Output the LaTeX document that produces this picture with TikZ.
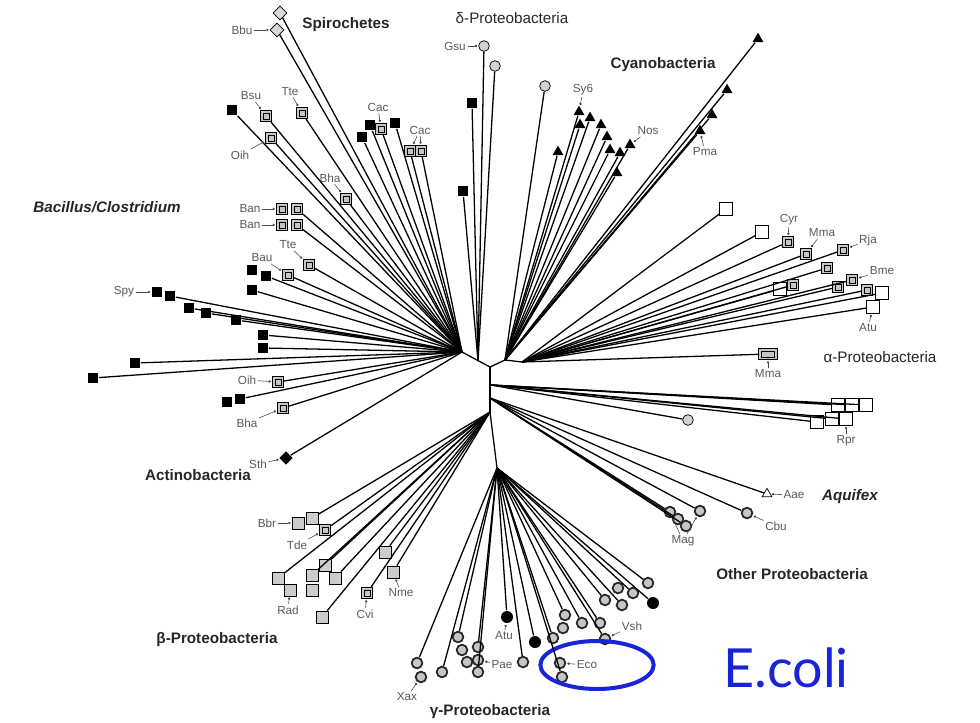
\documentclass[tikz,border=0pt]{standalone}
\usepackage{fontspec}
\setmainfont{Liberation Sans}
\newfontfamily\ecolifont{Lato}
\usetikzlibrary{shapes.geometric, arrows.meta}
\definecolor{ecblue}{RGB}{25,35,215}

\begin{document}
\begin{tikzpicture}[
  x=0.3mm, y=-0.3mm,
  blk/.style={rectangle, fill=black, minimum size=3.1mm, inner sep=0pt},
  hsq/.style={rectangle, draw, line width=0.7pt, fill=gray!45, minimum size=3.4mm, inner sep=0pt,
    path picture={\draw[line width=0.5pt] ([shift={(0.8mm,0.8mm)}]path picture bounding box.south west) rectangle ([shift={(-0.8mm,-0.8mm)}]path picture bounding box.north east);}},
  osq/.style={rectangle, draw, line width=0.6pt, fill=white, minimum size=3.8mm, inner sep=0pt},
  gsq/.style={rectangle, draw, line width=0.6pt, fill=gray!40, minimum size=3.6mm, inner sep=0pt},
  tri/.style={regular polygon, regular polygon sides=3, fill=black, minimum size=3.8mm, inner sep=0pt},
  otri/.style={regular polygon, regular polygon sides=3, draw, line width=0.6pt, fill=white, minimum size=3.4mm, inner sep=0pt},
  gcirc/.style={circle, draw, line width=0.6pt, fill=gray!35, minimum size=3.2mm, inner sep=0pt},
  gam/.style={circle, draw=black!85, line width=1.5pt, fill=gray!45, minimum size=3.2mm, inner sep=0pt},
  bcirc/.style={circle, fill=black, minimum size=3.6mm, inner sep=0pt},
  dia/.style={diamond, draw, line width=0.6pt, fill=gray!30, minimum size=4.2mm, inner sep=0pt},
  bdia/.style={diamond, fill=black, minimum size=4.2mm, inner sep=0pt},
  sp/.style={font=\fontsize{10}{10}\selectfont, text=black!65, inner sep=1pt},
  grp/.style={font=\fontsize{13}{13}\selectfont\bfseries, text=black!85},
  ptr/.style={black!70, line width=0.5pt, -{Circle[length=2pt]}, shorten >=1pt},
  line width=1.1pt
]
  \useasboundingbox (0,0) rectangle (980,723);

  % hubs of the tree
  \coordinate (L) at (462,352);
  \coordinate (T) at (478,361);
  \coordinate (C) at (490,367);
  \coordinate (R) at (505,360);
  \coordinate (A) at (522,362);
  \coordinate (M) at (491,385);
  \coordinate (N) at (490,398);
  \coordinate (D) at (490,412);
  \coordinate (G) at (497,468);

  % group names
  \node[grp] (spiro) at (346,25) {Spirochetes};
  \node[grp, font=\fontsize{13}{13}\selectfont] (delta) at (512,18) {δ-Proteobacteria};
  \node[grp] (cyano) at (663,65) {Cyanobacteria};
  \node[grp, font=\fontsize{13}{13}\selectfont\bfseries\itshape] (bacil) at (107,207) {Bacillus/Clostridium};
  \node[grp] (actino) at (198,475) {Actinobacteria};
  \node[grp, font=\fontsize{13}{13}\selectfont] (alpha) at (880,357) {α-Proteobacteria};
  \node[grp, font=\fontsize{13}{13}\selectfont\bfseries\itshape] (aquif) at (850,497) {Aquifex};
  \node[grp] (other) at (792,574) {Other Proteobacteria};
  \node[grp] (beta) at (217,640) {β-Proteobacteria};
  \node[grp] (gamma) at (490,712) {γ-Proteobacteria};

  % Spirochetes
  \node[dia] (sp1) at (280,13) {};
  \node[dia] (sp2) at (277,30) {};
  \node[sp] (lBbu) at (242,30) {Bbu};

  % delta
  \node[gcirc] (de1) at (484,46) {};
  \node[gcirc] (de2) at (495,66) {};
  \node[blk] (de3) at (472,103) {};
  \node[blk] (de4) at (463,191) {};
  \node[gcirc] (de5) at (545,86) {};
  \node[sp] (lGsu) at (455,46) {Gsu};

  % Cyanobacteria
  \node[tri] (cy1) at (758,39) {};
  \node[tri] (cy2) at (727,90) {};
  \node[tri] (cy3) at (712,115) {};
  \node[tri] (cy4) at (700,131) {};
  \node[tri] (cy5) at (579,112) {};
  \node[tri] (cy6) at (590,118) {};
  \node[tri] (cy7) at (580,125) {};
  \node[tri] (cy8) at (601,125) {};
  \node[tri] (cy9) at (607,137) {};
  \node[tri] (cy10) at (610,150) {};
  \node[tri] (cy11) at (620,153) {};
  \node[tri] (cy12) at (630,145) {};
  \node[tri] (cy13) at (558,152) {};
  \node[tri] (cy14) at (617,173) {};
  \node[sp] (lSy6) at (583,90) {Sy6};
  \node[sp] (lNos) at (648,131) {Nos};
  \node[sp] (lPma) at (705,152) {Pma};

  % alpha
  \node[osq] (al1) at (726,209) {};
  \node[osq] (al2) at (762,232) {};
  \node[hsq] (al3) at (788,242) {};
  \node[hsq] (al4) at (806,254) {};
  \node[hsq] (al5) at (827,268) {};
  \node[hsq] (al6) at (843,250) {};
  \node[osq] (al7) at (780,289) {};
  \node[hsq] (al8) at (793,285) {};
  \node[hsq] (al9) at (838,287) {};
  \node[hsq] (al10) at (852,280) {};
  \node[hsq] (al11) at (867,290) {};
  \node[osq] (al12) at (882,293) {};
  \node[osq] (al13) at (873,307) {};
  \node[hsq, minimum width=5.5mm] (al14) at (768,354) {};
  \node[osq] (al15) at (838,405) {};
  \node[osq] (al16) at (852,405) {};
  \node[osq] (al17) at (866,405) {};
  \node[osq] (al18) at (817,422) {};
  \node[osq] (al19) at (832,419) {};
  \node[osq] (al20) at (846,419) {};
  \node[sp] (lCyr) at (789,220) {Cyr};
  \node[sp] (lMma) at (822,233) {Mma};
  \node[sp] (lRja) at (868,240) {Rja};
  \node[sp] (lBme) at (882,271) {Bme};
  \node[sp] (lAtu) at (868,328) {Atu};
  \node[sp] (lMma2) at (768,374) {Mma};
  \node[sp] (lRpr) at (846,441) {Rpr};

  % other Proteobacteria and Aquifex
  \node[gcirc] (ot1) at (688,420) {};
  \node[otri] (aae) at (767,494) {};
  \node[gam] (cbu) at (747,513) {};
  \node[gam] (mg1) at (670,512) {};
  \node[gam] (mg2) at (678,519) {};
  \node[gam] (mg3) at (686,526) {};
  \node[gam] (mg4) at (700,511) {};
  \node[sp] (lAae) at (794,495) {Aae};
  \node[sp] (lCbu) at (776,526) {Cbu};
  \node[sp] (lMag) at (683,541) {Mag};

  % Bacillus/Clostridium and Actinobacteria
  \node[blk] (tl1) at (232,110) {};
  \node[hsq] (tl2) at (266,116) {};
  \node[hsq] (tl3) at (271,138) {};
  \node[hsq] (tl4) at (302,113) {};
  \node[hsq] (tl5) at (346,199) {};
  \node[sp] (lBsu) at (251,96) {Bsu};
  \node[sp] (lOih) at (240,155) {Oih};
  \node[sp] (lTte) at (290,92) {Tte};
  \node[sp] (lBha) at (330,178) {Bha};
  \node[blk] (ca1) at (370,125) {};
  \node[blk] (ca2) at (362,137) {};
  \node[hsq] (ca3) at (381,129) {};
  \node[blk] (ca4) at (395,123) {};
  \node[hsq] (ca5) at (410,151) {};
  \node[hsq] (ca6) at (421,151) {};
  \node[sp] (lCac) at (378,107) {Cac};
  \node[sp] (lCac2) at (420,130) {Cac};
  \node[hsq] (ba1) at (282,209) {};
  \node[hsq] (ba2) at (297,209) {};
  \node[hsq] (ba3) at (282,225) {};
  \node[hsq] (ba4) at (297,225) {};
  \node[sp] (lBan) at (250,209) {Ban};
  \node[sp] (lBan2) at (250,225) {Ban};
  \node[hsq] (tt) at (309,265) {};
  \node[hsq] (bau) at (288,275) {};
  \node[sp] (lTte2) at (288,245) {Tte};
  \node[sp] (lBau) at (262,258) {Bau};
  \node[blk] (k1) at (252,270) {};
  \node[blk] (k2) at (266,276) {};
  \node[blk] (k3) at (252,290) {};
  \node[blk] (s1) at (157,292) {};
  \node[blk] (s2) at (170,296) {};
  \node[blk] (s3) at (189,308) {};
  \node[blk] (s4) at (206,313) {};
  \node[blk] (s5) at (236,320) {};
  \node[sp] (lSpy) at (124,292) {Spy};
  \node[blk] (k4) at (263,335) {};
  \node[blk] (k5) at (263,348) {};
  \node[blk] (k6) at (135,363) {};
  \node[blk] (k7) at (93,378) {};
  \node[hsq] (oi) at (278,382) {};
  \node[sp] (lOih2) at (247,380) {Oih};
  \node[blk] (k8) at (227,402) {};
  \node[blk] (k9) at (240,399) {};
  \node[hsq] (bh) at (283,408) {};
  \node[sp] (lBha2) at (247,423) {Bha};
  \node[bdia] (sth) at (286,458) {};
  \node[sp] (lSth) at (258,464) {Sth};

  % beta
  \node[gsq] (b1) at (298,523) {};
  \node[gsq] (b2) at (312,518) {};
  \node[hsq] (b3) at (325,530) {};
  \node[gsq] (b4) at (278,578) {};
  \node[gsq] (b5) at (290,590) {};
  \node[gsq] (b6) at (312,575) {};
  \node[gsq] (b7) at (325,565) {};
  \node[gsq] (b8) at (335,578) {};
  \node[gsq] (b9) at (312,590) {};
  \node[gsq] (b10) at (322,617) {};
  \node[gsq] (b11) at (385,552) {};
  \node[gsq] (b12) at (393,572) {};
  \node[hsq] (b13) at (367,593) {};
  \node[sp] (lBbr) at (267,523) {Bbr};
  \node[sp] (lTde) at (297,545) {Tde};
  \node[sp] (lRad) at (288,610) {Rad};
  \node[sp] (lNme) at (401,593) {Nme};
  \node[sp] (lCvi) at (365,614) {Cvi};

  % gamma
  \node[gam] (x1) at (417,663) {};
  \node[gam] (x2) at (421,677) {};
  \node[gam] (g3) at (442,672) {};
  \node[gam] (g4) at (458,637) {};
  \node[gam] (g5) at (462,650) {};
  \node[gam] (g6) at (467,662) {};
  \node[gam] (g7) at (478,647) {};
  \node[gam] (g8) at (478,660) {};
  \node[gam] (g9) at (478,672) {};
  \node[bcirc] (gb1) at (507,617) {};
  \node[gam] (g10) at (523,662) {};
  \node[bcirc] (gb2) at (535,642) {};
  \node[gam] (g11) at (553,638) {};
  \node[gam] (g12) at (560,663) {};
  \node[gam] (g13) at (562,677) {};
  \node[gam] (g14) at (565,615) {};
  \node[gam] (g15) at (563,628) {};
  \node[gam] (g16) at (582,623) {};
  \node[gam] (g17) at (600,623) {};
  \node[gam] (g18) at (605,639) {};
  \node[gam] (g19) at (605,600) {};
  \node[gam] (g20) at (618,588) {};
  \node[gam] (g21) at (622,605) {};
  \node[gam] (g22) at (633,593) {};
  \node[gam] (g23) at (648,583) {};
  \node[bcirc] (gb3) at (653,603) {};
  \node[sp] (lXax) at (407,697) {Xax};
  \node[sp] (lPae) at (502,665) {Pae};
  \node[sp] (lAtu2) at (504,636) {Atu};
  \node[sp] (lEco) at (587,665) {Eco};
  \node[sp] (lVsh) at (632,626) {Vsh};

  % E. coli mark
  \node[ellipse, draw=ecblue, line width=3.4pt, minimum width=34mm, minimum height=14.4mm] (ring) at (597,665) {};
  \node[text=ecblue, font=\ecolifont\fontsize{46}{46}\selectfont] (ecoli) at (786,668) {E.coli};

  % backbone
  \draw (L) -- (C);
  \draw (C) -- (R);
  \draw (R) -- (A);
  \draw (C) -- (D);
  \draw (D) -- (G);

  % branches
  \draw (L) -- (sp1);
  \draw (L) -- (sp2);
  \draw (T) -- (de1);
  \draw (T) -- (de2);
  \draw (T) -- (de3);
  \draw (T) -- (de4);
  \draw (R) -- (de5);
  \draw (R) -- (cy1);
  \draw (R) -- (cy2);
  \draw (R) -- (cy3);
  \draw (R) -- (cy4);
  \draw (R) -- (cy5);
  \draw (R) -- (cy6);
  \draw (R) -- (cy7);
  \draw (R) -- (cy8);
  \draw (R) -- (cy9);
  \draw (R) -- (cy10);
  \draw (R) -- (cy11);
  \draw (R) -- (cy12);
  \draw (R) -- (cy13);
  \draw (R) -- (cy14);
  \draw (A) -- (al1);
  \draw (A) -- (al2);
  \draw (A) -- (al3);
  \draw (A) -- (al4);
  \draw (A) -- (al5);
  \draw (A) -- (al6);
  \draw (A) -- (al7);
  \draw (A) -- (al8);
  \draw (A) -- (al9);
  \draw (A) -- (al10);
  \draw (A) -- (al11);
  \draw (A) -- (al12);
  \draw (A) -- (al13);
  \draw (A) -- (al14);
  \draw (M) -- (al15);
  \draw (M) -- (al16);
  \draw (M) -- (al17);
  \draw (M) -- (al18);
  \draw (M) -- (al19);
  \draw (M) -- (al20);
  \draw (M) -- (ot1);
  \draw (N) -- (aae);
  \draw (N) -- (cbu);
  \draw (N) -- (mg1);
  \draw (N) -- (mg2);
  \draw (N) -- (mg3);
  \draw (N) -- (mg4);
  \draw (L) -- (tl1);
  \draw (L) -- (tl2);
  \draw (L) -- (tl3);
  \draw (L) -- (tl4);
  \draw (L) -- (tl5);
  \draw (L) -- (ca1);
  \draw (L) -- (ca2);
  \draw (L) -- (ca3);
  \draw (L) -- (ca4);
  \draw (L) -- (ca5);
  \draw (L) -- (ca6);
  \draw (L) -- (ba2);
  \draw (L) -- (ba4);
  \draw (L) -- (tt);
  \draw (L) -- (bau);
  \draw (L) -- (k2);
  \draw (L) -- (k3);
  \draw (L) -- (s2);
  \draw (L) -- (s3);
  \draw (L) -- (s4);
  \draw (L) -- (s5);
  \draw (L) -- (k4);
  \draw (L) -- (k5);
  \draw (L) -- (k6);
  \draw (L) -- (k7);
  \draw (L) -- (oi);
  \draw (L) -- (k9);
  \draw (L) -- (bh);
  \draw (L) -- (sth);
  \draw (D) -- (b2);
  \draw (D) -- (b3);
  \draw (D) -- (b4);
  \draw (D) -- (b6);
  \draw (D) -- (b7);
  \draw (D) -- (b8);
  \draw (D) -- (b10);
  \draw (D) -- (b11);
  \draw (D) -- (b12);
  \draw (D) -- (b13);
  \draw (G) -- (x1);
  \draw (G) -- (g3);
  \draw (G) -- (g4);
  \draw (G) -- (g7);
  \draw (G) -- (g9);
  \draw (G) -- (gb1);
  \draw (G) -- (g10);
  \draw (G) -- (gb2);
  \draw (G) -- (g11);
  \draw (G) -- (g13);
  \draw (G) -- (g14);
  \draw (G) -- (g16);
  \draw (G) -- (g17);
  \draw (G) -- (g18);
  \draw (G) -- (g19);
  \draw (G) -- (g21);
  \draw (G) -- (g22);
  \draw (G) -- (g23);
  \draw (G) -- (gb3);

  % label pointers
  \draw[ptr] (lBbu) -- (sp2);
  \draw[ptr] (lGsu) -- (de1);
  \draw[ptr] (lSy6) -- (cy5);
  \draw[ptr] (lNos) -- (cy12);
  \draw[ptr] (lPma) -- (cy4);
  \draw[ptr] (lCyr) -- (al3);
  \draw[ptr] (lMma) -- (al4);
  \draw[ptr] (lRja) -- (al6);
  \draw[ptr] (lBme) -- (al10);
  \draw[ptr] (lAtu) -- (al13);
  \draw[ptr] (lMma2) -- (al14);
  \draw[ptr] (lRpr) -- (al20);
  \draw[ptr] (lAae) -- (aae);
  \draw[ptr] (lCbu) -- (cbu);
  \draw[ptr] (lMag) -- (mg1);
  \draw[ptr] (lMag) -- (mg4);
  \draw[ptr] (lBsu) -- (tl2);
  \draw[ptr] (lOih) -- (tl3);
  \draw[ptr] (lTte) -- (tl4);
  \draw[ptr] (lBha) -- (tl5);
  \draw[ptr] (lCac) -- (ca3);
  \draw[ptr] (lCac2) -- (ca5);
  \draw[ptr] (lCac2) -- (ca6);
  \draw[ptr] (lBan) -- (ba1);
  \draw[ptr] (lBan2) -- (ba3);
  \draw[ptr] (lTte2) -- (tt);
  \draw[ptr] (lBau) -- (bau);
  \draw[ptr] (lSpy) -- (s1);
  \draw[ptr] (lOih2) -- (oi);
  \draw[ptr] (lBha2) -- (bh);
  \draw[ptr] (lSth) -- (sth);
  \draw[ptr] (lBbr) -- (b1);
  \draw[ptr] (lTde) -- (b3);
  \draw[ptr] (lRad) -- (b5);
  \draw[ptr] (lNme) -- (b12);
  \draw[ptr] (lCvi) -- (b13);
  \draw[ptr] (lXax) -- (x2);
  \draw[ptr] (lPae) -- (g8);
  \draw[ptr] (lAtu2) -- (gb1);
  \draw[ptr] (lEco) -- (g12);
  \draw[ptr] (lVsh) -- (g18);
\end{tikzpicture}
\end{document}
